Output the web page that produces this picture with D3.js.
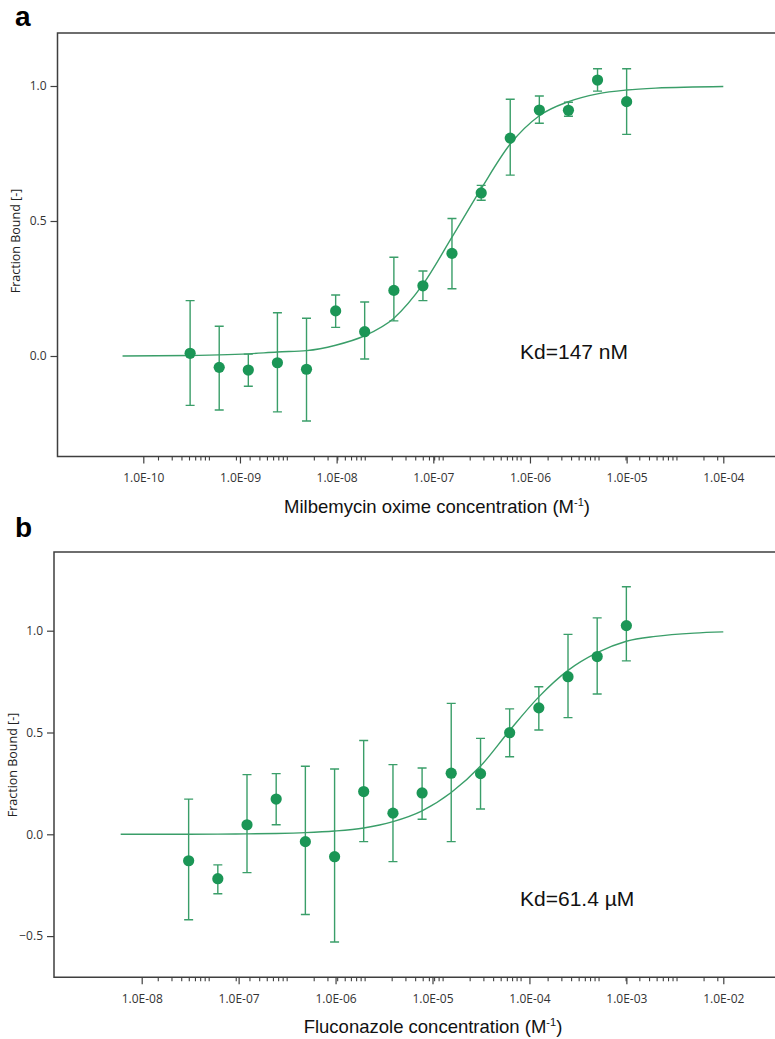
<!DOCTYPE html>
<html>
<head>
<meta charset="utf-8">
<script src="https://cdn.jsdelivr.net/npm/d3@7"></script>
<style>
  html, body { margin: 0; padding: 0; background: #fff; }
  svg { display: block; }
</style>
</head>
<body>
<svg id="chart" width="775" height="1039"></svg>
<script>
// ---------- Panel a data: Milbemycin oxime ----------
const concA = [3.05e-10, 6.1e-10, 1.22e-9, 2.44e-9, 4.88e-9, 9.77e-9, 1.95e-8, 3.91e-8,
               7.81e-8, 1.56e-7, 3.13e-7, 6.25e-7, 1.25e-6, 2.5e-6, 5e-6, 1e-5];
const fracA = [0.01, -0.042, -0.052, -0.025, -0.049, 0.167, 0.09, 0.243,
               0.26, 0.38, 0.604, 0.807, 0.911, 0.91, 1.022, 0.942];
const hiA   = [0.205, 0.11, 0.007, 0.16, 0.14, 0.226, 0.2, 0.366,
               0.315, 0.509, 0.632, 0.951, 0.963, 0.94, 1.064, 1.064];
const loA   = [-0.183, -0.2, -0.112, -0.207, -0.241, 0.106, -0.011, 0.13,
               0.205, 0.249, 0.577, 0.67, 0.862, 0.888, 0.981, 0.821];
const fitConcA = [6.1e-11, 3.05e-10, 6.1e-10, 1.22e-9, 2.44e-9, 4.88e-9, 9.77e-9, 1.95e-8, 3.91e-8,
                  7.81e-8, 1.56e-7, 3.13e-7, 6.25e-7, 1.25e-6, 2.5e-6, 5e-6, 1e-5, 2e-5, 1e-4];
const fitFracA = [0.0, 0.002, 0.004, 0.008, 0.015, 0.02, 0.04, 0.075, 0.14,
                  0.265, 0.44, 0.62, 0.785, 0.89, 0.942, 0.971, 0.985, 0.992, 0.998];
const xTickLabelsA = ["1.0E-10", "1.0E-09", "1.0E-08", "1.0E-07", "1.0E-06", "1.0E-05", "1.0E-04"];
const yTicksA = [0.0, 0.5, 1.0];
const titleA = "Milbemycin oxime concentration (M";
const kdA = "Kd=147 nM";

// ---------- Panel b data: Fluconazole ----------
const concB = [3.05e-8, 6.1e-8, 1.22e-7, 2.44e-7, 4.88e-7, 9.77e-7, 1.95e-6, 3.91e-6,
               7.81e-6, 1.56e-5, 3.13e-5, 6.25e-5, 1.25e-4, 2.5e-4, 5e-4, 1e-3];
const fracB = [-0.13, -0.218, 0.047, 0.173, -0.036, -0.11, 0.21, 0.104,
               0.203, 0.30, 0.298, 0.499, 0.621, 0.774, 0.873, 1.025];
const hiB   = [0.173, -0.15, 0.293, 0.298, 0.334, 0.321, 0.461, 0.342,
               0.326, 0.643, 0.471, 0.616, 0.725, 0.982, 1.063, 1.216];
const loB   = [-0.42, -0.292, -0.188, 0.047, -0.394, -0.529, -0.036, -0.134,
               0.074, -0.036, 0.124, 0.381, 0.512, 0.573, 0.689, 0.852];
const fitConcB = [6.07e-9, 3.05e-8, 6.1e-8, 1.22e-7, 2.44e-7, 4.88e-7, 9.77e-7, 1.95e-6, 3.91e-6,
                  7.81e-6, 1.56e-5, 3.13e-5, 6.25e-5, 1.25e-4, 2.5e-4, 5e-4, 1e-3, 2e-3, 5e-3, 1e-2];
const fitFracB = [0.0, 0.0005, 0.001, 0.002, 0.004, 0.008, 0.016, 0.031, 0.062,
                  0.115, 0.205, 0.335, 0.51, 0.675, 0.805, 0.892, 0.948, 0.972, 0.988, 0.994];
const xTickLabelsB = ["1.0E-08", "1.0E-07", "1.0E-06", "1.0E-05", "1.0E-04", "1.0E-03", "1.0E-02"];
const yTicksB = [-0.5, 0.0, 0.5, 1.0];
const titleB = "Fluconazole concentration (M";
const kdB = "Kd=61.4 \u00B5M";

const yAxisTitle = "Fraction Bound [-]";

// ---------- layout ----------
const svg = d3.select("#chart");
const markerColor = "#1b9656";
const lineColor = "#3a9e69";
const frameColor = "#3f3f3f";
const tickFont = "'Open Sans', 'Noto Sans', sans-serif";
const textFont = "'Liberation Sans', Arial, sans-serif";

function panel(cfg) {
  const g = svg.append("g");
  const x = d3.scaleLog().domain(cfg.xDom).range(cfg.xRange);
  const y = d3.scaleLinear().domain([0, 1]).range(cfg.yRange);
  const xFull = x.copy().domain([x.invert(cfg.left), x.invert(cfg.right)]);

  // frame (top, left, bottom)
  g.append("path")
    .attr("d", `M${cfg.right},${cfg.top}H${cfg.left}V${cfg.bottom}H${cfg.right}`)
    .attr("fill", "none").attr("stroke", frameColor).attr("stroke-width", 1.5);

  // x axis: minor ticks
  const majors = cfg.xTickLabels.map((d, i) => cfg.xDom[0] * Math.pow(10, i));
  const isMajor = v => majors.some(m => Math.abs(Math.log10(v) - Math.log10(m)) < 1e-6);
  const minors = xFull.ticks().filter(v => !isMajor(v) && xFull(v) > cfg.left + 3);
  const minorAxis = d3.axisBottom(xFull).tickValues(minors).tickSize(4).tickFormat("");
  const gMinor = g.append("g").attr("transform", `translate(0,${cfg.bottom})`).call(minorAxis);
  gMinor.select(".domain").remove();
  gMinor.selectAll("line").attr("stroke", frameColor).attr("stroke-width", 1.1);

  const majorAxis = d3.axisBottom(x).tickValues(majors).tickSize(7).tickPadding(10)
    .tickFormat((d, i) => cfg.xTickLabels[i]);
  const gMajor = g.append("g").attr("transform", `translate(0,${cfg.bottom})`).call(majorAxis);
  gMajor.select(".domain").remove();
  gMajor.selectAll("line").attr("stroke", frameColor).attr("stroke-width", 1.2);
  gMajor.selectAll("text").attr("font-family", tickFont).attr("font-size", 12).attr("fill", "#333");

  // y axis
  const yAxis = d3.axisLeft(y).tickValues(cfg.yTicks).tickSize(7).tickPadding(4).tickFormat(d3.format(".1f"));
  const gY = g.append("g").attr("transform", `translate(${cfg.left},0)`).call(yAxis);
  gY.select(".domain").remove();
  gY.selectAll("line").attr("stroke", frameColor).attr("stroke-width", 1.2);
  gY.selectAll("text").attr("font-family", tickFont).attr("font-size", 12).attr("fill", "#333");

  // fit curve
  const line = d3.line().x(d => x(d[0])).y(d => y(d[1])).curve(d3.curveMonotoneX);
  g.append("path")
    .datum(cfg.fitConc.map((c, i) => [c, cfg.fitFrac[i]]))
    .attr("d", line).attr("fill", "none").attr("stroke", lineColor).attr("stroke-width", 1.4);

  // error bars
  const pts = cfg.conc.map((c, i) => ({ c, v: cfg.frac[i], lo: cfg.lo[i], hi: cfg.hi[i] }));
  const eb = g.append("g").attr("stroke", lineColor).attr("stroke-width", 1.4).attr("fill", "none");
  eb.selectAll("path").data(pts).join("path")
    .attr("d", d => {
      const cx = x(d.c), y1 = y(d.hi), y2 = y(d.lo);
      return `M${cx - 4.5},${y1}H${cx + 4.5}M${cx},${y1}V${y2}M${cx - 4.5},${y2}H${cx + 4.5}`;
    });

  // markers
  g.append("g").selectAll("circle").data(pts).join("circle")
    .attr("cx", d => x(d.c)).attr("cy", d => y(d.v)).attr("r", 5.6)
    .attr("fill", markerColor);

  // Kd text
  g.append("text").attr("x", cfg.kdX).attr("y", cfg.kdY)
    .attr("font-family", textFont).attr("font-size", 21).attr("fill", "#111")
    .text(cfg.kd);

  // x title with superscript
  const t = g.append("text").attr("x", cfg.titleX).attr("y", cfg.titleY).attr("text-anchor", "middle")
    .attr("font-family", textFont).attr("font-size", 18.5).attr("fill", "#111");
  t.append("tspan").text(cfg.title);
  t.append("tspan").attr("font-size", 11).attr("dy", -7).text("-1");
  t.append("tspan").attr("dy", 7).text(")");

  // y title
  g.append("text")
    .attr("transform", `translate(${cfg.yTitleX},${cfg.yTitleY}) rotate(-90)`)
    .attr("text-anchor", "middle").attr("font-family", tickFont).attr("font-size", 12.5).attr("fill", "#222")
    .text(yAxisTitle);

  // panel letter
  g.append("text").attr("x", cfg.letterX).attr("y", cfg.letterY)
    .attr("font-family", textFont).attr("font-weight", "bold").attr("font-size", 28).attr("fill", "#000")
    .text(cfg.letter);
}

panel({
  conc: concA, frac: fracA, lo: loA, hi: hiA, fitConc: fitConcA, fitFrac: fitFracA,
  xTickLabels: xTickLabelsA, yTicks: yTicksA, title: titleA, kd: kdA, letter: "a",
  xDom: [1e-10, 1e-4], xRange: [143.3, 723.3], yRange: [356, 86],
  left: 57.5, right: 777, top: 33, bottom: 456.5,
  kdX: 520, kdY: 359, titleX: 437, titleY: 513, yTitleX: 20, yTitleY: 241,
  letterX: 15, letterY: 26
});

panel({
  conc: concB, frac: fracB, lo: loB, hi: hiB, fitConc: fitConcB, fitFrac: fitFracB,
  xTickLabelsB: null,
  xTickLabels: xTickLabelsB, yTicks: yTicksB, title: titleB, kd: kdB, letter: "b",
  xDom: [1e-8, 1e-2], xRange: [141.7, 723.3], yRange: [834.3, 630.7],
  left: 54, right: 777, top: 552, bottom: 977.3,
  kdX: 520, kdY: 906, titleX: 433, titleY: 1033, yTitleX: 17, yTitleY: 765,
  letterX: 15, letterY: 537
});
</script>
</body>
</html>
